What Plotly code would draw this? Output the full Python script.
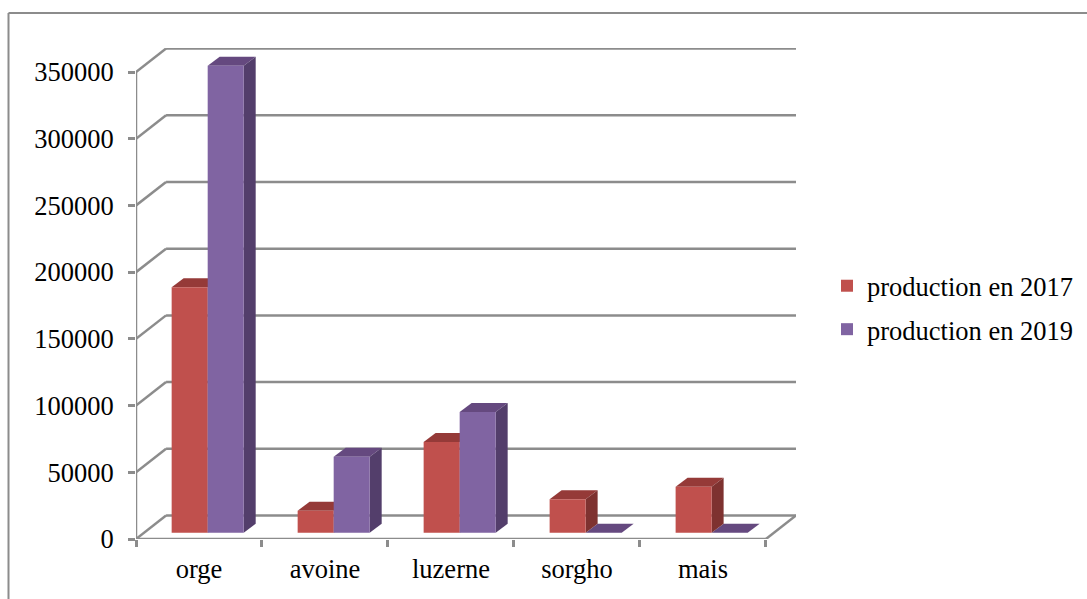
import plotly.graph_objects as go

# Production by crop
categories = ["orge", "avoine", "luzerne", "sorgho", "mais"]
production_2017 = [184000, 16500, 68000, 25000, 34500]
production_2019 = [350000, 57000, 90500, 0, 0]
y_ticks = [0, 50000, 100000, 150000, 200000, 250000, 300000, 350000]

W, H = 1087, 599
FONT = "Liberation Serif"
GRID = "#8c8c8c"

# Perspective of the fake 3D box, in axis units
WALL_DX, WALL_DY = 0.2385, 17600
BAR_DX, BAR_DY = 0.095, 6750
BAR_LIFT = 4700
BAR_W = 0.286
OFFSETS = {"2017": -0.217, "2019": 0.069}

positions = list(range(len(categories)))


def line(x0, y0, x1, y1, width=2.5):
    return dict(type="line", xref="x", yref="y", x0=x0, y0=y0, x1=x1, y1=y1,
                line=dict(color=GRID, width=width), layer="below")


def face(points, colour):
    path = "M " + " L ".join(f"{x},{y}" for x, y in points) + " Z"
    return dict(type="path", xref="x", yref="y", path=path, fillcolor=colour,
                line=dict(width=0), layer="between")


shapes = []
x_left, x_right = -0.5, len(categories) - 0.5

# Walls and floor outline
for tick in y_ticks:
    shapes.append(line(x_left, tick, x_left + WALL_DX, tick + WALL_DY))
    shapes.append(line(x_left + WALL_DX, tick + WALL_DY,
                       x_right + WALL_DX, tick + WALL_DY))
shapes.append(line(x_left, 0, x_left, y_ticks[-1]))
shapes.append(line(x_left, 0, x_right, 0))
shapes.append(line(x_right, 0, x_right + WALL_DX, WALL_DY))


def bar_faces(values, offset, top_colour, side_colour):
    out = []
    for pos, value in zip(positions, values):
        x0 = pos + offset
        x1 = x0 + BAR_W
        top = BAR_LIFT + value
        out.append(face([(x0, top), (x1, top),
                         (x1 + BAR_DX, top + BAR_DY), (x0 + BAR_DX, top + BAR_DY)],
                        top_colour))
        if value > 0:
            out.append(face([(x1, BAR_LIFT), (x1 + BAR_DX, BAR_LIFT + BAR_DY),
                             (x1 + BAR_DX, top + BAR_DY), (x1, top)], side_colour))
    return out


shapes += bar_faces(production_2019, OFFSETS["2019"], "#65497f", "#533e6b")
shapes += bar_faces(production_2017, OFFSETS["2017"], "#953a38", "#7e3230")

# Outer chart frame, open towards the page edges
frame = dict(color=GRID, width=2)
shapes.append(dict(type="line", xref="paper", yref="paper", x0=8.5 / W, x1=1,
                   y0=1 - 13 / H, y1=1 - 13 / H, line=frame))
shapes.append(dict(type="line", xref="paper", yref="paper", x0=8.5 / W, x1=8.5 / W,
                   y0=0, y1=1 - 13 / H, line=frame))

fig = go.Figure()
for name, values, colour, key in [
    ("production en 2017", production_2017, "#c0504d", "2017"),
    ("production en 2019", production_2019, "#8064a2", "2019"),
]:
    fig.add_trace(go.Bar(
        x=positions, y=values, base=BAR_LIFT, name=name, legendgroup=name,
        width=BAR_W, offset=OFFSETS[key],
        marker=dict(color=colour, line=dict(width=0)),
    ))

fig.update_layout(
    width=W, height=H,
    margin=dict(l=0, r=0, t=0, b=0),
    paper_bgcolor="white", plot_bgcolor="rgba(0,0,0,0)",
    barmode="overlay",
    font=dict(family=FONT, size=26.5, color="black"),
    shapes=shapes,
    xaxis=dict(
        domain=[136 / W, 796 / W],
        range=[x_left, x_right + WALL_DX],
        automargin=False,
        tickmode="array", tickvals=positions, ticktext=categories,
        ticks="", showgrid=False, zeroline=False, showline=False,
        ticklabelstandoff=11,
        minor=dict(tickmode="array",
                   tickvals=[p - 0.5 for p in positions] + [x_right],
                   ticks="outside", ticklen=7, tickwidth=2.5, tickcolor=GRID,
                   showgrid=False),
    ),
    yaxis=dict(
        domain=[(H - 539) / H, (H - 48) / H],
        range=[0, y_ticks[-1] + WALL_DY + 400],
        automargin=False,
        tickmode="array", tickvals=y_ticks, ticktext=[str(v) for v in y_ticks],
        ticks="outside", ticklen=7, tickwidth=2.5, tickcolor=GRID,
        showgrid=False, zeroline=False, showline=False,
        ticklabelstandoff=9,
    ),
    legend=dict(
        x=827 / W, y=1 - 262 / H, xanchor="left", yanchor="top",
        traceorder="grouped", tracegroupgap=6,
        itemwidth=30, bgcolor="rgba(0,0,0,0)",
        font=dict(family=FONT, size=26.5),
    ),
    showlegend=True,
)

fig.write_html("out.html")
